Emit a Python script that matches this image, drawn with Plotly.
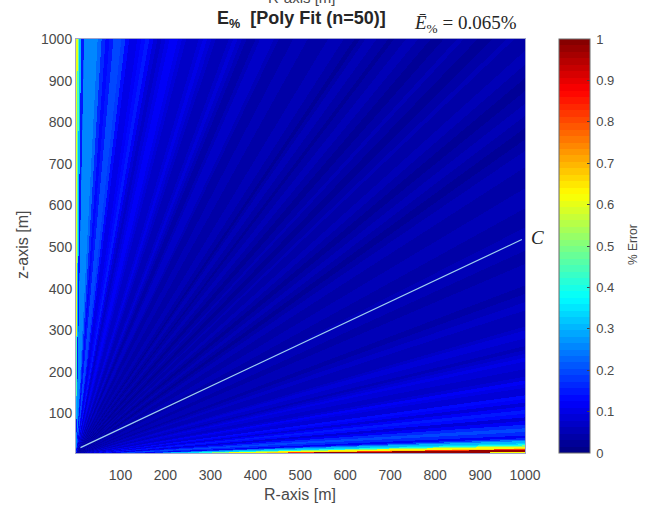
import numpy as np
import plotly.graph_objects as go

# Axis ticks
r_ticks = [100, 200, 300, 400, 500, 600, 700, 800, 900, 1000]
z_ticks = [100, 200, 300, 400, 500, 600, 700, 800, 900, 1000]
cbar_ticks = [0, 0.1, 0.2, 0.3, 0.4, 0.5, 0.6, 0.7, 0.8, 0.9, 1]

low_angle_edges = [0, .34, .38, .42, .46, .8, .9, 1.0, 1.25, 1.4, 1.55, 1.7, 1.85, 2.0, 2.2, 2.4, 2.75]
low_angle_error = [1.0, .88, .72, .62, .98, .82, .66, .62, .5, .4, .34, .3, .3, .24, .17, .11]

mid_angle_start = 2.75
mid_angle_error = [
    .16, .2, .17, .11, .09, .13, .15, .11, .09, .115, .125, .09, .08, .10, .11, .09,
    .075, .07, .08, .09, .095, .08, .065, .06, .065, .075, .08, .08, .065, .055, .05, .055,
    .06, .07, .07, .06, .05, .045, .045, .05, .055, .06, .06, .05, .045, .04, .04, .05,
    .055, .06, .06, .055, .045, .035, .035, .045, .05, .055, .055, .05, .035, .035, .035, .045,
    .05, .05, .05, .045, .035, .03, .03, .035, .045, .05, .05, .045, .035, .03, .03, .035,
    .045, .05, .05, .045, .035, .045, .05, .045, .035, .03, .03, .035, .045, .05, .045, .035,
    .03, .03, .035, .045, .05, .05, .045, .035, .03, .035, .045, .05, .05, .045, .03, .035,
    .045, .05, .055, .05, .045, .035, .035, .045, .055, .06, .055, .045, .035, .045, .055, .065,
    .07, .065, .055, .045, .045, .06, .075, .08, .07, .055, .05, .055, .07, .09, .095, .085,
    .075, .065, .07, .085, .10, .11, .11, .095, .08, .075, .09, .12, .145, .14, .12, .105,
    .105, .135, .175, .195, .19, .155, .13, .16, .22, .25, .26, .26,
]

high_angle_edges = [88.75, 88.95, 89.0, 89.35, 89.6, 89.8, 90.01]
high_angle_error = [.25, .22, .15, .3, .45, .6]

# The white reference line and its end points
line_r = [11, 993]
line_z = [18, 518]

r_grid = np.linspace(1, 1000, 450)
z_grid = np.linspace(5, 1000, 415)

mid_edges = mid_angle_start + 0.5 * np.arange(len(mid_angle_error))
angle_edges = np.concatenate([low_angle_edges[:-1], mid_edges, high_angle_edges])
angle_error = np.array(low_angle_error + mid_angle_error + high_angle_error)

rr, zz = np.meshgrid(r_grid, z_grid)
angles = np.degrees(np.arctan2(zz, rr))
idx = np.clip(np.searchsorted(angle_edges, angles, side="right") - 1, 0, len(angle_error) - 1)
error = angle_error[idx]


def jet_colour(t):
    r = np.clip(min(4 * t - 1.5, -4 * t + 4.5), 0, 1)
    g = np.clip(min(4 * t - 0.5, -4 * t + 3.5), 0, 1)
    b = np.clip(min(4 * t + 0.5, -4 * t + 2.5), 0, 1)
    return f"rgb({int(r * 255)},{int(g * 255)},{int(b * 255)})"


levels = 64
jet = []
for i in range(levels):
    c = jet_colour((i + 0.5) / levels)
    jet += [[i / levels, c], [(i + 1) / levels, c]]

TEXT = "#4a4a4a"
SANS = "Liberation Sans, Arial, sans-serif"
SERIF = "Liberation Serif, serif"

fig = go.Figure()
fig.add_trace(go.Heatmap(
    x=r_grid, y=z_grid, z=error, zmin=0, zmax=1, colorscale=jet,
    colorbar=dict(
        x=1.0757, xanchor="left", y=0.5, yanchor="middle", len=1, lenmode="fraction",
        thickness=31, thicknessmode="pixels", outlinecolor="#6a6a6a", outlinewidth=1,
        tickvals=cbar_ticks, ticktext=["\u2009" + str(v) for v in cbar_ticks], ticks="inside",
        ticklen=3, tickcolor="#404040", tickfont=dict(family=SANS, size=13, color=TEXT),
        ypad=0, xpad=0,
    ),
))
fig.add_trace(go.Scatter(x=line_r, y=line_z, mode="lines",
                         line=dict(color="#9fd0f0", width=1.2), showlegend=False, hoverinfo="skip"))

axis_common = dict(
    showgrid=False, zeroline=False, showline=True, mirror=True,
    linecolor="#9fa3cc", linewidth=1, tickfont=dict(family=SANS, size=14, color=TEXT),
)
fig.update_xaxes(range=[1, 1000], tickvals=r_ticks, ticks="outside", ticklen=9, tickcolor="rgba(0,0,0,0)",
                 automargin=False, **axis_common)
fig.update_yaxes(range=[5, 1000], tickvals=z_ticks, ticks="",
                 automargin=False, **axis_common)

notes = [
    dict(text="R-axis [m]", x=302, y=-3, size=15, color=TEXT, family=SANS, angle=0),
    dict(text="<b>E<sub>%</sub>  [Poly Fit (n=50)]</b>", x=301, y=19, size=18, color="#262626", family=SANS, angle=0),
    dict(text="<i>Ē</i><sub>%</sub> = 0.065%", x=465, y=24, size=19, color="#262626", family=SERIF, angle=0),
    dict(text="<i>C</i>", x=537, y=237, size=19, color="#262626", family=SERIF, angle=0),
    dict(text="R-axis [m]", x=300, y=494, size=16, color=TEXT, family=SANS, angle=0),
    dict(text="z-axis [m]", x=22, y=245, size=16, color=TEXT, family=SANS, angle=-90),
    dict(text="% Error", x=633, y=245, size=12, color=TEXT, family=SANS, angle=-90),
]
annotations = [
    dict(text=n["text"], xref="paper", yref="paper", showarrow=False, textangle=n["angle"],
         x=(n["x"] - 76) / 449, y=1 - (n["y"] - 39) / 414, xanchor="center", yanchor="middle",
         font=dict(family=n["family"], size=n["size"], color=n["color"]))
    for n in notes
]

fig.update_layout(
    width=645, height=508, autosize=False,
    margin=dict(l=76, r=120, t=39, b=55, pad=0),
    paper_bgcolor="white", plot_bgcolor="white",
    showlegend=False, annotations=annotations,
)
fig.write_html("out.html", config={"displayModeBar": False},
               post_script="document.body.style.margin='0';")
